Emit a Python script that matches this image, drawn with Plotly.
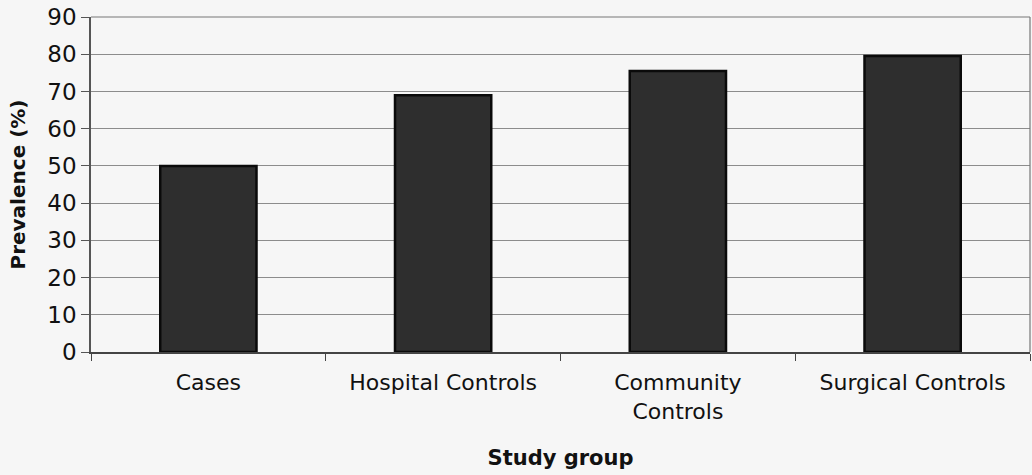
import plotly.graph_objects as go

# Study groups and prevalence values (%)
groups = ["Cases", "Hospital Controls", "Community<br>Controls", "Surgical Controls"]
prevalence = [50, 69, 75.5, 79.5]
y_ticks = [0, 10, 20, 30, 40, 50, 60, 70, 80, 90]

font_family = "DejaVu Sans, Verdana, sans-serif"
paper = "#f6f6f6"

fig = go.Figure()
fig.add_trace(go.Bar(
    x=groups,
    y=prevalence,
    width=0.41,
    marker=dict(color="#2e2e2e", line=dict(color="#0a0a0a", width=2.5)),
    showlegend=False,
))

fig.update_layout(
    width=1032,
    height=475,
    margin=dict(l=91, r=2, t=17, b=123),
    paper_bgcolor=paper,
    plot_bgcolor=paper,
    font=dict(family=font_family, color="#111111"),
    bargap=0.59,
)

fig.update_xaxes(
    showline=True, linecolor="#444444", linewidth=1.5, mirror=False,
    ticks="outside", ticklen=7, tickcolor="#444444", tickson="boundaries",
    tickfont=dict(size=22, family=font_family, color="#111111"),
    ticklabelstandoff=10,
    title=dict(text="<b>Study group</b>", font=dict(size=21, family=font_family, color="#111111"), standoff=28),
    showgrid=False,
)
fig.update_yaxes(
    range=[0, 90], tickvals=y_ticks,
    showline=True, linecolor="#555555", linewidth=1.5,
    ticks="outside", ticklen=8, tickcolor="#555555",
    tickfont=dict(size=23, family=font_family, color="#111111"),
    showgrid=True, gridcolor="#8c8c8c", gridwidth=1,
    zeroline=False,
)

# Y-axis title placed near the left edge
fig.add_annotation(
    text="<b>Prevalence (%)</b>", textangle=-90,
    xref="paper", yref="paper", x=0, y=0.5, xanchor="center", yanchor="middle",
    xshift=-74, showarrow=False,
    font=dict(size=20, family=font_family, color="#111111"),
)

# Frame along the top and right edges of the plot area
fig.add_shape(type="line", xref="paper", yref="paper", x0=0, x1=1, y0=1, y1=1,
              line=dict(color="#777777", width=1.2))
fig.add_shape(type="line", xref="paper", yref="paper", x0=1, x1=1, y0=0, y1=1,
              line=dict(color="#777777", width=1.2))

fig.write_html("out.html")
